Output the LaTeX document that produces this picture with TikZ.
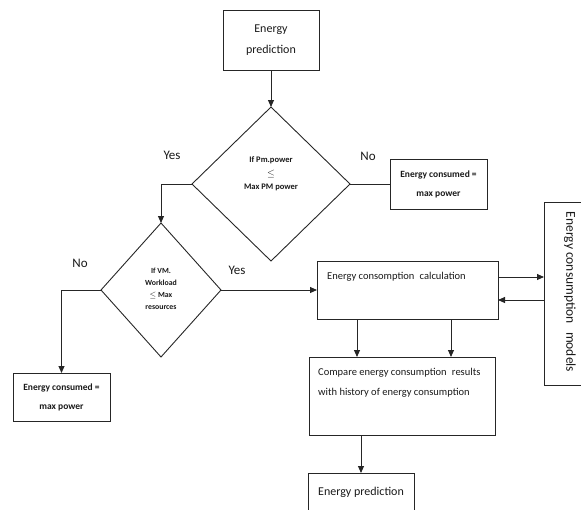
\documentclass[tikz,border=0pt]{standalone}
\usepackage{fontspec}
\setmainfont{Carlito}
\usetikzlibrary{shapes.geometric,arrows.meta,calc}
\begin{document}
\begin{tikzpicture}[x=1pt,y=-1pt,
 line/.style={draw=black!85, line width=0.9pt},
 arr/.style={line, -{Triangle[length=7pt,width=6pt]}},
 box/.style={draw=black!85, line width=0.9pt, rectangle, inner sep=0pt, outer sep=0pt},
 dia/.style={draw=black!85, line width=0.9pt, diamond, inner sep=0pt, outer sep=0pt},
 lbl/.style={font=\fontsize{13}{15}\selectfont, text=black!90, inner sep=0pt},
 txt/.style={text=black!90, inner sep=0pt},
 ]
\useasboundingbox (0,0) rectangle (581,509);
\clip (0,0) rectangle (581,509);

% top box
\node[box, minimum width=96pt, minimum height=60pt, align=center, font=\fontsize{12}{21}\selectfont, text=black!90] (top) at (271,40) {Energy\\prediction};

% diamond 1
\node[dia, minimum width=158pt, minimum height=154pt] (d1) at (271,184) {};
\node[txt, align=center, font=\bfseries\fontsize{8.5}{13.5}\selectfont] (d1t) at (271,174) {If Pm.power\\{\fontsize{10}{10}\selectfont$\leq$}\\Max PM power};

% no box right
\node[box, minimum width=97pt, minimum height=50pt, align=center, font=\bfseries\fontsize{9.5}{19}\selectfont, text=black!90] (noA) at (438.5,184) {Energy consumed =\\max power};

% diamond 2
\node[dia, minimum width=120pt, minimum height=134pt] (d2) at (161,290) {};
\node[txt, align=center, font=\bfseries\fontsize{7.8}{12}\selectfont] (d2t) at (161,289) {If VM.\\Workload\\$\leq$ Max\\resources};

% no box left
\node[box, minimum width=97pt, minimum height=48pt, align=center, font=\bfseries\fontsize{9.5}{19}\selectfont, text=black!90] (noB) at (61.5,397) {Energy consumed =\\max power};

% calc box
\node[box, minimum width=181pt, minimum height=58pt] (calc) at (407.5,290) {};
\node[txt, anchor=base west, font=\fontsize{10.5}{12}\selectfont] (calct) at (327,279) {Energy consomption\hspace{0.5em}calculation};

% models box
\node[box, minimum width=76pt, minimum height=183pt] (models) at (582,293.5) {};
\node[txt, rotate=-90, font=\fontsize{13.5}{15}\selectfont] (modt) at (570,292) {Energy consumption\hspace{0.6em}models};

% compare box
\node[box, minimum width=186pt, minimum height=78pt] (cmp) at (402,396) {};
\node[txt, anchor=base west, align=left, font=\fontsize{10.5}{20}\selectfont] (cmpt) at (318,395) {Compare energy consumption\hspace{0.5em}results\\with history of energy consumption};

% final box
\node[box, minimum width=106pt, minimum height=60pt] (fin) at (361,503) {};
\node[txt, anchor=base, font=\fontsize{12}{14}\selectfont] (fint) at (361,495) {Energy prediction};

% labels
\node[lbl] (yes1) at (172,155) {Yes};
\node[lbl] (no1) at (368,156) {No};
\node[lbl] (no2) at (80,263) {No};
\node[lbl] (yes2) at (237,270) {Yes};

% connectors
\draw[arr] (top.south) -- (d1.north);
\draw[line] (d1.east) -- (noA.west);
\draw[arr] (d1.west) -| (d2.north);
\draw[arr] (d2.west) -| (noB.north);
\draw[arr] (d2.east) -- (calc.west);
\coordinate (m1) at ([yshift=13pt]calc.east);
\coordinate (m2) at ([yshift=-10pt]calc.east);
\draw[arr] (m1) -- (m1 -| models.west);
\draw[arr] (m2 -| models.west) -- (m2);
\coordinate (xa) at (357,0);
\coordinate (xb) at (451,0);
\draw[arr] (xa |- calc.south) -- (xa |- cmp.north);
\draw[arr] (xb |- calc.south) -- (xb |- cmp.north);
\draw[arr] (cmp.south -| fin.north) -- (fin.north);
\end{tikzpicture}
\end{document}
